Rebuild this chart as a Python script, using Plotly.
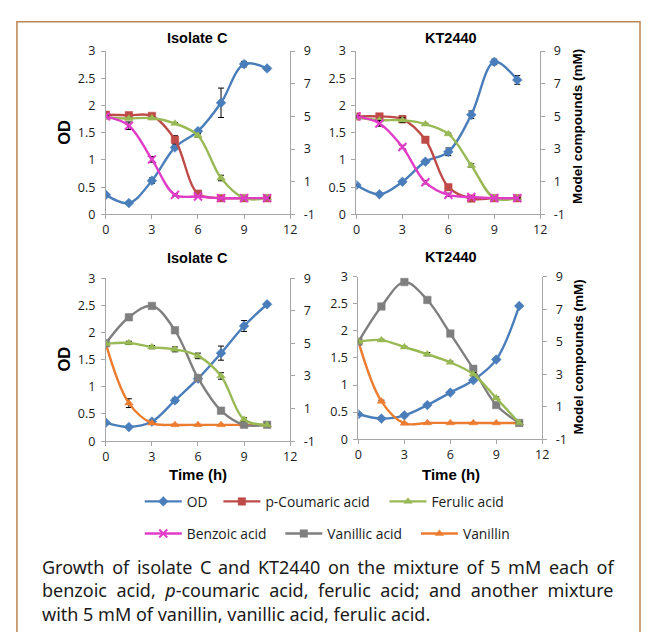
import plotly.graph_objects as go

# page is 655x640; browser body keeps its default 8px margin, so the figure is 639x624
PAGE_W, PAGE_H, BODY_M = 655, 640, 8
W, H = PAGE_W - 2 * BODY_M, PAGE_H - 2 * BODY_M

# ---------------- data ----------------
time_h = [0, 1.5, 3, 4.5, 6, 7.5, 9, 10.5]

# Panel A: Isolate C, mixture benzoic / p-coumaric / ferulic
a_od = [0.36, 0.21, 0.62, 1.23, 1.53, 2.05, 2.76, 2.68]
a_od_err = [0.02, 0.02, 0.05, 0.03, 0.03, 0.27, 0.05, 0.03]
a_pcoum = [5.1, 5.07, 5.03, 3.57, 0.27, 0.0, 0.0, 0.0]
a_pcoum_err = [0.1, 0.1, 0.1, 0.25, 0.1, 0.1, 0.05, 0.05]
a_ferulic = [4.93, 4.87, 4.9, 4.57, 3.83, 1.23, 0.0, 0.0]
a_ferulic_err = [0.05, 0.05, 0.05, 0.05, 0.1, 0.17, 0.05, 0.05]
a_benzoic = [5.0, 4.43, 2.37, 0.2, 0.1, 0.0, 0.0, 0.0]
a_benzoic_err = [0.05, 0.23, 0.17, 0.07, 0.05, 0.05, 0.05, 0.05]

# Panel B: KT2440, mixture benzoic / p-coumaric / ferulic
b_od = [0.54, 0.37, 0.6, 0.97, 1.15, 1.83, 2.8, 2.47]
b_od_err = [0.02, 0.02, 0.03, 0.03, 0.07, 0.07, 0.05, 0.08]
b_pcoum = [5.0, 5.0, 4.83, 3.57, 0.67, -0.03, 0.0, 0.0]
b_pcoum_err = [0.05, 0.1, 0.2, 0.1, 0.1, 0.05, 0.05, 0.05]
b_ferulic = [4.93, 4.77, 4.77, 4.53, 3.93, 2.0, 0.0, 0.0]
b_ferulic_err = [0.05, 0.05, 0.15, 0.05, 0.05, 0.1, 0.05, 0.05]
b_benzoic = [5.0, 4.57, 3.13, 0.97, 0.2, 0.07, 0.0, 0.0]
b_benzoic_err = [0.05, 0.17, 0.1, 0.1, 0.1, 0.07, 0.05, 0.05]

# Panel C: Isolate C, mixture vanillin / vanillic / ferulic
c_od = [0.34, 0.26, 0.36, 0.75, 1.15, 1.62, 2.12, 2.52]
c_od_err = [0.02, 0.02, 0.02, 0.04, 0.03, 0.13, 0.1, 0.02]
c_vanillic = [5.0, 6.6, 7.3, 5.8, 2.87, 0.87, 0.0, 0.0]
c_vanillic_err = [0.05, 0.1, 0.05, 0.15, 0.1, 0.07, 0.05, 0.05]
c_ferulic = [4.97, 5.03, 4.77, 4.63, 4.23, 3.0, 0.33, 0.0]
c_ferulic_err = [0.05, 0.1, 0.1, 0.15, 0.17, 0.2, 0.1, 0.05]
c_vanillin = [4.97, 1.33, 0.1, 0.0, 0.0, 0.0, 0.0, 0.0]
c_vanillin_err = [0.05, 0.27, 0.05, 0.03, 0.03, 0.03, 0.03, 0.03]

# Panel D: KT2440, mixture vanillin / vanillic / ferulic
d_od = [0.46, 0.38, 0.44, 0.63, 0.86, 1.09, 1.47, 2.46]
d_od_err = [0.02, 0.02, 0.02, 0.02, 0.02, 0.03, 0.03, 0.02]
d_vanillic = [5.0, 7.17, 8.67, 7.57, 5.5, 3.33, 1.1, 0.0]
d_vanillic_err = [0.05, 0.05, 0.05, 0.05, 0.1, 0.15, 0.07, 0.05]
d_ferulic = [5.0, 5.1, 4.67, 4.23, 3.73, 3.0, 1.53, 0.0]
d_ferulic_err = [0.05, 0.05, 0.05, 0.1, 0.07, 0.1, 0.07, 0.05]
d_vanillin = [5.0, 1.33, -0.03, 0.0, 0.0, 0.0, 0.0, 0.0]
d_vanillin_err = [0.05, 0.07, 0.03, 0.03, 0.03, 0.03, 0.03, 0.03]

panel_titles = ["Isolate C", "KT2440", "Isolate C", "KT2440"]
x_ticks = [0, 3, 6, 9, 12]
od_ticks = [0, 0.5, 1, 1.5, 2, 2.5, 3]
od_tick_text = ["0", "0.5", "1", "1.5", "2", "2.5", "3"]
mm_ticks = [-1, 1, 3, 5, 7, 9]
mm_tick_text = ["-1", "1", "3", "5", "7", "9"]

TS = "\u2009"   # thin space used to justify the caption
HS = "\u200a"   # hair space
caption_words = [
    ["Growth", "of", "isolate", "C", "and", "KT2440", "on", "the", "mixture", "of", "5", "mM", "each", "of"],
    ["benzoic", "acid,", "<i>p</i>-coumaric", "acid,", "ferulic", "acid;", "and", "another", "mixture"],
    ["with", "5", "mM", "of", "vanillin,", "vanillic", "acid,", "ferulic", "acid."],
]

# ---------------- styles ----------------
COL = {
    "OD": "#4A7EBB",
    "p-Coumaric acid": "#BE4B48",
    "Ferulic acid": "#98B954",
    "Benzoic acid": "#E13CC8",
    "Vanillic acid": "#7F7F7F",
    "Vanillin": "#EC7C30",
}
SYM = {
    "OD": "diamond",
    "p-Coumaric acid": "square",
    "Ferulic acid": "triangle-up",
    "Benzoic acid": "x-thin",
    "Vanillic acid": "square",
    "Vanillin": "triangle-up",
}
LEG = {
    "OD": "legend",
    "p-Coumaric acid": "legend2",
    "Ferulic acid": "legend3",
    "Benzoic acid": "legend4",
    "Vanillic acid": "legend5",
    "Vanillin": "legend6",
}

def px_x(p):
    return (p - BODY_M) / W

def px_y(p):
    return 1 - (p - BODY_M) / H

domains = [
    ((103.5, 291), (43, 211)),
    ((358.5, 545.5), (43, 211)),
    ((103.5, 291), (276.5, 444)),
    ((360.5, 547.5), (275, 442)),
]

panels = [
    [("OD", a_od, a_od_err), ("p-Coumaric acid", a_pcoum, a_pcoum_err),
     ("Ferulic acid", a_ferulic, a_ferulic_err), ("Benzoic acid", a_benzoic, a_benzoic_err)],
    [("OD", b_od, b_od_err), ("p-Coumaric acid", b_pcoum, b_pcoum_err),
     ("Ferulic acid", b_ferulic, b_ferulic_err), ("Benzoic acid", b_benzoic, b_benzoic_err)],
    [("OD", c_od, c_od_err), ("Vanillin", c_vanillin, c_vanillin_err),
     ("Vanillic acid", c_vanillic, c_vanillic_err), ("Ferulic acid", c_ferulic, c_ferulic_err)],
    [("OD", d_od, d_od_err), ("Vanillin", d_vanillin, d_vanillin_err),
     ("Vanillic acid", d_vanillic, d_vanillic_err), ("Ferulic acid", d_ferulic, d_ferulic_err)],
]

fig = go.Figure()
shown = set()
for i, series in enumerate(panels):
    xa = "x" if i == 0 else f"x{i+1}"
    ya_left = "y" if i == 0 else f"y{i+1}"
    ya_right = f"y{i+5}"
    for name, vals, err in series:
        show = name not in shown
        shown.add(name)
        if SYM[name] == "x-thin":
            marker = dict(symbol="x-thin", size=8, color=COL[name],
                          line=dict(color=COL[name], width=2))
        else:
            marker = dict(symbol=SYM[name], size=7.5, color=COL[name],
                          line=dict(color=COL[name], width=0.5))
        fig.add_trace(go.Scatter(
            x=time_h, y=vals, name=name, mode="lines+markers",
            line=dict(color=COL[name], width=2.4, shape="spline", smoothing=1.0),
            marker=marker,
            error_y=dict(type="data", array=err, visible=True, color="#000000",
                         thickness=1, width=3),
            xaxis=xa, yaxis=ya_left if name == "OD" else ya_right,
            showlegend=show, legend=LEG[name],
        ))

AXCOL = "#A6A6A6"
tickfont = dict(family="Open Sans, Arial, sans-serif", size=12.5, color="#1a1a1a")
layout = dict(
    width=W, height=H, margin=dict(l=0, r=0, t=0, b=0),
    paper_bgcolor="white", plot_bgcolor="white",
)
for i, ((x0, x1), (y0, y1)) in enumerate(domains):
    xk = "xaxis" if i == 0 else f"xaxis{i+1}"
    yk = "yaxis" if i == 0 else f"yaxis{i+1}"
    yrk = f"yaxis{i+5}"
    xid = "x" if i == 0 else f"x{i+1}"
    yid = "y" if i == 0 else f"y{i+1}"
    common = dict(showline=True, linecolor=AXCOL, linewidth=1, ticks="outside",
                  ticklen=4, tickcolor=AXCOL, showgrid=False, zeroline=False,
                  tickfont=tickfont, fixedrange=True)
    layout[xk] = dict(domain=[px_x(x0), px_x(x1)], range=[0, 12], tickvals=x_ticks,
                      anchor=yid, **common)
    layout[yk] = dict(domain=[px_y(y1), px_y(y0)], range=[0, 3], tickvals=od_ticks,
                      ticktext=od_tick_text, anchor=xid, ticklabelstandoff=3, **common)
    layout[yrk] = dict(range=[-1, 9], tickvals=mm_ticks, ticktext=mm_tick_text,
                       overlaying=yid, side="right", anchor=xid, ticklabelstandoff=6,
                       **common)

# legends, one per entry, laid out in two rows
leg_font = dict(family="Open Sans, Arial, sans-serif", size=13.8, color="#1a1a1a")
leg_pos = {
    "legend": (138, 506), "legend2": (218, 506), "legend3": (387, 506),
    "legend4": (138, 539), "legend5": (281, 539), "legend6": (419, 539),
}
for k, (lx, ly) in leg_pos.items():
    layout[k] = dict(x=px_x(lx), y=px_y(ly), xanchor="left", yanchor="middle",
                     orientation="h", font=leg_font, bgcolor="rgba(0,0,0,0)",
                     borderwidth=0, itemwidth=37)

annotations = []
title_font = dict(family="Liberation Sans, Arial, sans-serif", size=14.5, color="#000")
title_pos = [(197, 30), (455, 30), (197, 256), (455, 255)]
for t, (tx, ty) in zip(panel_titles, title_pos):
    annotations.append(dict(text=f"<b>{t}</b>", x=px_x(tx), y=px_y(ty), xref="paper",
                            yref="paper", showarrow=False, font=title_font,
                            xanchor="center", yanchor="middle"))
for ty in (127, 360):
    annotations.append(dict(text="<b>OD</b>", x=px_x(61), y=px_y(ty), xref="paper",
                            yref="paper", showarrow=False, textangle=-90,
                            font=dict(family="Liberation Sans, Arial", size=16.5, color="#000"),
                            xanchor="center", yanchor="middle"))
for ty in (121, 358):
    annotations.append(dict(text="<b>Model compounds (mM)</b>", x=px_x(584), y=px_y(ty),
                            xref="paper", yref="paper", showarrow=False, textangle=-90,
                            font=dict(family="Liberation Sans, Arial", size=13.5, color="#000"),
                            xanchor="center", yanchor="middle"))
for tx in (197, 455):
    annotations.append(dict(text="<b>Time (h)</b>", x=px_x(tx), y=px_y(478), xref="paper",
                            yref="paper", showarrow=False,
                            font=dict(family="Liberation Sans, Arial", size=15, color="#000"),
                            xanchor="center", yanchor="middle"))

gap1 = [" " + (HS if j in (3, 9) else TS) for j in range(len(caption_words[0]) - 1)]
line1 = caption_words[0][0] + "".join(g + w for g, w in zip(gap1, caption_words[0][1:]))
line2 = (" " + TS + HS).join(caption_words[1])
line3 = " ".join(caption_words[2])
cap_font = dict(family="Noto Sans, Open Sans, sans-serif", size=18, color="#1a1a1a")
annotations.append(dict(text="<br>".join([line1, line2, line3]), x=px_x(36), y=px_y(598),
                        xref="paper", yref="paper", showarrow=False, font=cap_font,
                        xanchor="left", yanchor="middle", align="left"))
layout["annotations"] = annotations
layout["shapes"] = [dict(type="rect", xref="paper", yref="paper",
                         x0=px_x(13), x1=px_x(647), y0=-0.2, y1=px_y(13),
                         line=dict(color="#BE8650", width=1.5), fillcolor="rgba(0,0,0,0)",
                         layer="below")]

fig.update_layout(**layout)
fig.write_html("out.html", config={"displayModeBar": False, "staticPlot": True})
